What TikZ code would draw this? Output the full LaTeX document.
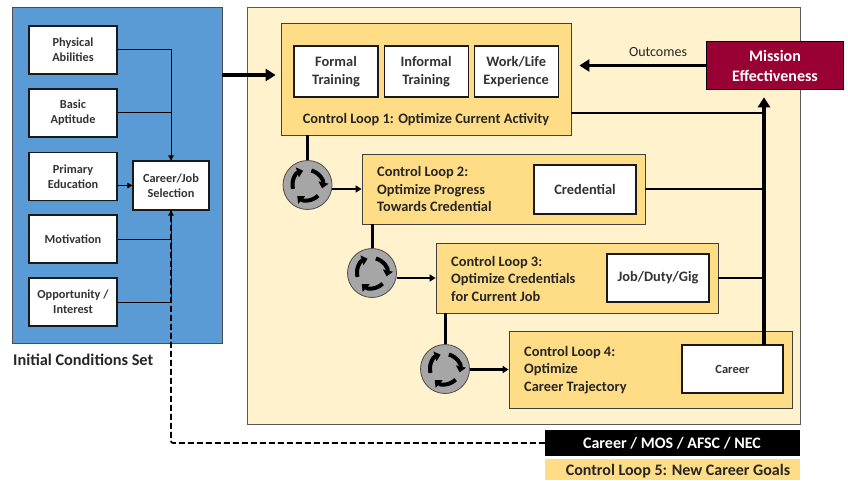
\documentclass[tikz,border=0pt]{standalone}
\usepackage{fontspec}
\setmainfont{Carlito}
\usetikzlibrary{calc,shadows}
\usetikzlibrary{positioning}
\usetikzlibrary{arrows.meta}
\definecolor{setblue}{HTML}{5B9BD5}
\definecolor{paleyellow}{HTML}{FFF2CC}
\definecolor{loopyellow}{HTML}{FFDC86}
\definecolor{missionred}{HTML}{990033}
\definecolor{cyclegray}{HTML}{A6A6A6}

\begin{document}
\begin{tikzpicture}[x=1pt,y=1pt,
        panel/.style={rectangle, draw=black!65, inner sep=0pt},
        loopbox/.style={panel, fill=loopyellow, draw=black!75, thick},
        whitebox/.style={rectangle, draw=black!90, fill=white, line width=1.1pt, inner sep=0pt, align=center, font=\bfseries\fontsize{12.3}{15}\selectfont, text=black!80, drop shadow={shadow xshift=0.8pt, shadow yshift=-1pt, opacity=0.5}},
        initbox/.style={whitebox, minimum width=88pt, minimum height=48pt},
        trainbox/.style={whitebox, minimum width=84pt, minimum height=51pt, font=\bfseries\fontsize{14.4}{17.5}\selectfont},
        resultbox/.style={whitebox, minimum width=102pt, minimum height=49pt, font=\bfseries\fontsize{14.4}{17.5}\selectfont},
        looptext/.style={align=left, anchor=west, inner sep=0pt, text=black!85, font=\bfseries\fontsize{14.4}{17.5}\selectfont},
        cyclenode/.style={circle, draw=black!70, fill=cyclegray, thick, minimum size=49pt, inner sep=0pt},
        cyclearrow/.style={line width=4pt, -{Triangle[length=6pt,width=10pt]}},
        thinline/.style={line width=1pt},
        thinarrow/.style={thinline, -{Triangle[length=5pt,width=5.5pt]}},
        midline/.style={line width=2pt},
        midarrow/.style={line width=2.2pt, -{Triangle[length=6pt,width=7pt]}},
        linkline/.style={line width=3pt},
        thickarrow/.style={line width=3.6pt, -{Triangle[length=10pt,width=12pt]}}]
    \useasboundingbox (0,0) rectangle (848,480);

    %Panels
    \node[panel, fill=setblue, draw=black!70, minimum width=210pt, minimum height=336pt] (setpanel) at (117,305) {};
    \node[panel, fill=paleyellow, minimum width=553pt, minimum height=417pt] (looppanel) at (523.5,264.5) {};
    \node[anchor=west, inner sep=0pt, text=black!85, font=\bfseries\fontsize{16.3}{18}\selectfont] (setlabel) at (13,120) {Initial Conditions Set};

    %Initial conditions
    \node[initbox] (physical) at (73,430) {Physical\\Abilities};
    \node[initbox] (aptitude) at (73,367) {Basic\\Aptitude};
    \node[initbox] (education) at (73,303.5) {Primary\\Education};
    \node[initbox] (motivation) at (73,241) {Motivation};
    \node[initbox] (opportunity) at (73,178) {Opportunity /\\Interest};
    \node[initbox, minimum width=76pt, minimum height=49pt] (selection) at (171,294.5) {Career/Job\\Selection};

    %Control loops
    \node[loopbox, minimum width=290pt, minimum height=112pt] (loopone) at (426,401) {};
    \node[trainbox] (formal) at (336,408.5) {Formal\\Training};
    \node[trainbox] (informal) [right=5pt of formal] {Informal\\Training};
    \node[trainbox] (worklife) [right=5pt of informal] {Work/Life\\Experience};
    \node[looptext, anchor=center] (looponetext) at (426,360.5) {Control Loop 1: Optimize Current Activity};

    \node[loopbox, minimum width=283pt, minimum height=70pt] (looptwo) at (503.5,291) {};
    \node[looptext] (looptwotext) at (377,290.5) {Control Loop 2:\\Optimize Progress\\Towards Credential};
    \node[resultbox] (credential) at (585,290.5) {Credential};

    \node[loopbox, minimum width=282pt, minimum height=70pt] (loopthree) at (577,202) {};
    \node[looptext] (loopthreetext) at (451,201.5) {Control Loop 3:\\Optimize Credentials\\for Current Job};
    \node[resultbox, minimum height=48pt] (job) at (658,202) {Job/Duty/Gig};

    \node[loopbox, minimum width=283pt, minimum height=77pt] (loopfour) at (650.5,110.5) {};
    \node[looptext] (loopfourtext) at (524,110) {Control Loop 4:\\Optimize\\Career Trajectory};
    \node[resultbox, minimum width=101pt, minimum height=48pt, font=\bfseries\fontsize{12.5}{14}\selectfont] (career) at (732.5,111) {Career};

    %Cycle circles
    \node[cyclenode] (cycleone) at (307.5,295) {};
    \node[cyclenode] (cycletwo) at (372,207) {};
    \node[cyclenode] (cyclethree) at (445,111) {};
    \foreach \cyc in {cycleone,cycletwo,cyclethree}
        \foreach \ang in {195,75,-45}
            \draw[cyclearrow] ($(\cyc)+(\ang:15)$) arc[start angle=\ang, delta angle=-88, radius=15];

    %Outcome nodes
    \node[rectangle, draw=black, line width=1.6pt, fill=missionred, text=white, align=center, inner sep=0pt, minimum width=137pt, minimum height=48pt, font=\bfseries\fontsize{16}{20}\selectfont] (mission) at (775,414.5) {Mission\\Effectiveness};
    \node[rectangle, fill=black, text=white, inner sep=0pt, minimum width=255pt, minimum height=26pt, font=\bfseries\fontsize{16}{18}\selectfont] (careerbar) at (672.5,37) {\hspace*{-1pt}Career / MOS / AFSC / NEC};
    \node[rectangle, fill=loopyellow, text=black!85, inner sep=0pt, minimum width=255pt, minimum height=21pt, font=\bfseries\fontsize{16}{18}\selectfont] (goalsbar) at (672.5,10.5) {\hspace*{11pt}\raisebox{-6pt}[0pt][0pt]{Control Loop 5: New Career Goals}};
    \node[inner sep=0pt, text=black!85, font=\fontsize{14}{16}\selectfont] (outcomes) at (658,428) {Outcomes};

    %Coordinates
    \coordinate (setout) at (222,405);
    \coordinate (trunk) at (764,135);

    %Connectors
    \draw[thinarrow] (physical.east) -| (selection.north);
    \draw[thinline] (aptitude.east) -| (selection.north);
    \draw[thinarrow] (education.east |- selection.west) -- (selection.west);
    \draw[thinarrow] (motivation.east) -| (selection.south);
    \draw[thinline] (opportunity.east) -| (selection.south);
    \draw[line width=1.7pt, dashed, dash pattern=on 6pt off 3pt, rounded corners=2pt] (careerbar.west) -| (selection.south);
    \draw[thickarrow, shorten >=5pt] (setout) -- (setout -| loopone.west);
    \draw[thickarrow] (mission.west) -- ($(loopone.east |- mission.west)+(8,0)$);
    \draw[line width=4pt, -{Triangle[length=10pt,width=12pt]}, shorten >=7pt] (trunk) -- (trunk |- mission.south);
    \draw[midline] (loopone.east |- 0,367) -- (764,367);
    \draw[midline] (looptwo.east) -- (looptwo.east -| trunk);
    \draw[midline] (loopthree.east) -- (loopthree.east -| trunk);
    \draw[linkline] (cycleone.north |- loopone.south) -- (cycleone.north);
    \draw[linkline] (cycletwo.north |- looptwo.south) -- (cycletwo.north);
    \draw[linkline] (cyclethree.north |- loopthree.south) -- (cyclethree.north);
    \draw[midarrow] (cycleone.east |- looptwo.west) -- (looptwo.west);
    \draw[midarrow] (cycletwo.east |- loopthree.west) -- (loopthree.west);
    \draw[midarrow] (cyclethree.east |- loopfour.west) -- (loopfour.west);
\end{tikzpicture}
\end{document}
